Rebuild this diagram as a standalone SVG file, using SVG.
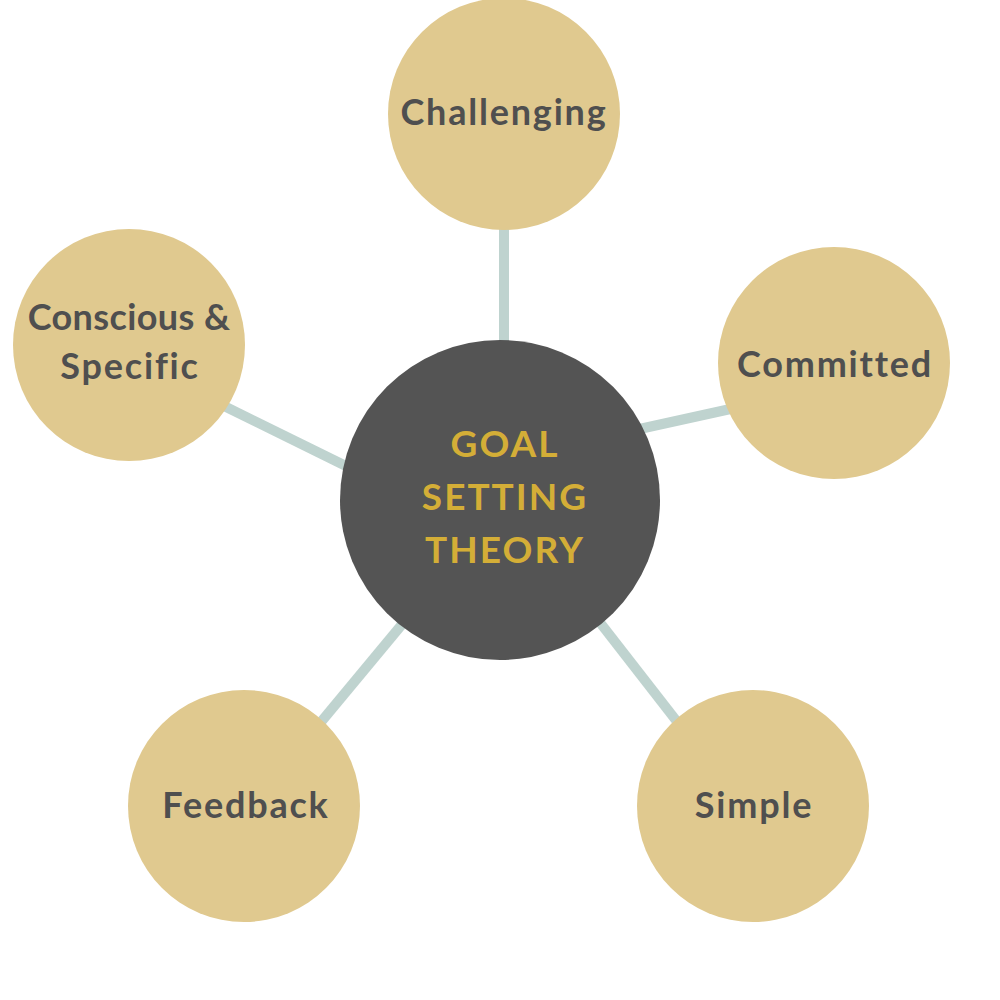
<svg xmlns="http://www.w3.org/2000/svg" width="1000" height="1000" viewBox="0 0 1000 1000">
<style>
.node{fill:#E0C98F}
.lbl{font-family:"Lato","Liberation Sans",sans-serif;font-weight:700;font-size:36px;letter-spacing:1.8px;fill:#4F4F4F;text-anchor:middle}
.tight{letter-spacing:0.4px}
.ctr{font-family:"Lato","Liberation Sans",sans-serif;font-weight:700;font-size:37px;letter-spacing:2px;fill:#D4AE37;text-anchor:middle}
.con{stroke:#BFD3CF;stroke-width:10;fill:none}
</style>
<rect width="1000" height="1000" fill="#FFFFFF"/>
<g id="connectors">
<line class="con" x1="504" y1="345" x2="504" y2="220"/>
<line class="con" x1="635" y1="430" x2="735" y2="408"/>
<line class="con" x1="352" y1="469" x2="222" y2="405"/>
<line class="con" x1="404" y1="622" x2="316" y2="728"/>
<line class="con" x1="598" y1="620" x2="682" y2="728"/>
</g>
<g id="center">
<circle cx="500" cy="500" r="160" fill="#545454"/>
<text class="ctr" x="505" y="457">GOAL</text>
<text class="ctr" x="505" y="510">SETTING</text>
<text class="ctr" x="505" y="563">THEORY</text>
</g>
<g id="challenging">
<circle class="node" cx="504" cy="114" r="116"/>
<text class="lbl" x="504" y="125">Challenging</text>
</g>
<g id="committed">
<circle class="node" cx="834" cy="363" r="116"/>
<text class="lbl" x="835" y="377">Committed</text>
</g>
<g id="conscious">
<circle class="node" cx="129" cy="345" r="116"/>
<text class="lbl tight" x="129" y="330">Conscious &amp;</text>
<text class="lbl" x="130" y="379">Specific</text>
</g>
<g id="feedback">
<circle class="node" cx="244" cy="806" r="116"/>
<text class="lbl" x="246" y="818">Feedback</text>
</g>
<g id="simple">
<circle class="node" cx="753" cy="806" r="116"/>
<text class="lbl" x="754" y="818">Simple</text>
</g>
</svg>
